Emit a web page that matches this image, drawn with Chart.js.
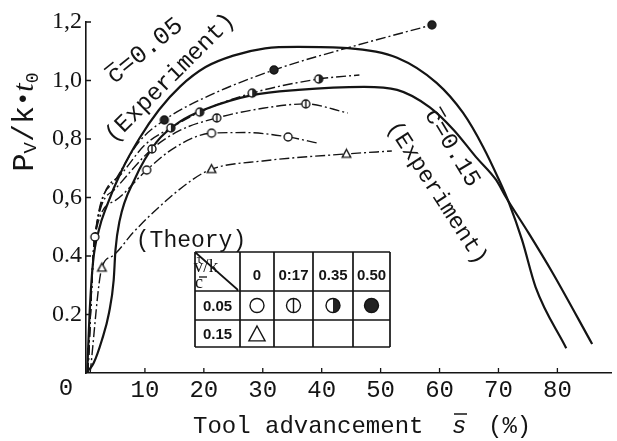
<!DOCTYPE html>
<html>
<head>
<meta charset="utf-8">
<script src="https://cdn.jsdelivr.net/npm/chart.js@4.4.1/dist/chart.umd.min.js"></script>
<style>
  html, body { margin: 0; padding: 0; background: #fff; }
  #wrap { width: 617px; height: 441px; }
</style>
</head>
<body>
<div id="wrap"><canvas id="chart" width="617" height="441"></canvas></div>
<script>
// ---- data ---------------------------------------------------------------

// experiment, c = 0.05 (upper solid curve)
const exp05X = [0.2, 0.6, 1.2, 2.2, 3.5, 6, 9, 12.4, 16, 20.3, 25, 30.4, 36, 44.4, 52.8, 59.5, 64, 67.4, 70.1, 71.8, 74, 76.3, 81.5];
const exp05Y = [0, 0.2, 0.38, 0.49, 0.57, 0.69, 0.8, 0.9, 0.98, 1.046, 1.085, 1.11, 1.115, 1.111, 1.078, 0.992, 0.889, 0.773, 0.66, 0.581, 0.455, 0.294, 0.085];

// experiment, c = 0.15 (lower solid curve)
const exp15X = [0.5, 1.3, 2.7, 3.9, 4.7, 5.0, 5.7, 8.2, 12, 16, 20, 28.2, 36, 47.2, 52.8, 58.3, 62.4, 66.2, 69.6, 71.3, 75.1, 79.2, 85.9];
const exp15Y = [0.01, 0.034, 0.113, 0.205, 0.318, 0.42, 0.52, 0.66, 0.79, 0.86, 0.9, 0.95, 0.968, 0.978, 0.968, 0.909, 0.831, 0.738, 0.66, 0.6, 0.479, 0.342, 0.099];

// theory, c = 0.05, tau/k = 0
const th0X = [0.3, 1.5, 5, 10.3, 15, 21.3, 27, 34.3, 39.3];
const th0Y = [0, 0.465, 0.59, 0.694, 0.77, 0.82, 0.822, 0.807, 0.786];
const th0Marks = [1, 3, 5, 7];

// theory, c = 0.05, tau/k = 0.17
const th17X = [0.3, 1.5, 5, 11.2, 16, 22.2, 30, 37.3, 44.4];
const th17Y = [0, 0.465, 0.63, 0.766, 0.83, 0.872, 0.905, 0.92, 0.889];
const th17Marks = [3, 5, 7];

// theory, c = 0.05, tau/k = 0.35
const th35X = [0.3, 1.5, 6, 10, 14.4, 19.3, 28.2, 39.5, 46.4];
const th35Y = [0, 0.465, 0.68, 0.78, 0.838, 0.892, 0.957, 1.005, 1.019];
const th35Marks = [4, 5, 6, 7];

// theory, c = 0.05, tau/k = 0.50
const th50X = [0.3, 1.5, 5, 9, 13.3, 20, 31.9, 45, 58.7];
const th50Y = [0, 0.465, 0.66, 0.79, 0.865, 0.94, 1.036, 1.115, 1.19];
const th50Marks = [4, 6, 8];

// theory, c = 0.15, tau/k = 0
const thTriX = [0.7, 2.7, 4.5, 8, 12, 18, 21.3, 30, 44.2, 51.9];
const thTriY = [0, 0.36, 0.40, 0.48, 0.56, 0.66, 0.697, 0.725, 0.749, 0.759];
const thTriMarks = [1, 6, 8];

const xTickValues = [10, 20, 30, 40, 50, 60, 70, 80];
const yTickLabels = ['', '0.2', '0.4', '0,6', '0,8', '1,0', '1,2'];
const tableCols = ['0', '0:17', '0.35', '0.50'];
const tableRows = ['0.05', '0.15'];

// ---- styling --------------------------------------------------------------

const INK = '#141414';
const MONO = "'Liberation Mono', 'DejaVu Sans Mono', monospace";
const SERIF = "'Liberation Serif', 'DejaVu Serif', serif";
const SANS = "'Liberation Sans', Arial, sans-serif";

function drawMarker(ctx, kind, x, y, r) {
    ctx.save();
    ctx.lineWidth = 1.4;
    ctx.strokeStyle = INK;
    if (kind === 'tri') {
        ctx.beginPath();
        ctx.moveTo(x, y - r);
        ctx.lineTo(x + r * 0.95, y + r * 0.75);
        ctx.lineTo(x - r * 0.95, y + r * 0.75);
        ctx.closePath();
        ctx.fillStyle = '#fff';
        ctx.fill();
        ctx.stroke();
        ctx.restore();
        return;
    }
    ctx.beginPath();
    ctx.arc(x, y, r, 0, Math.PI * 2);
    ctx.fillStyle = kind === 'full' ? '#222' : '#fff';
    ctx.fill();
    if (kind === 'half') {
        ctx.beginPath();
        ctx.arc(x, y, r, -Math.PI / 2, Math.PI / 2);
        ctx.closePath();
        ctx.fillStyle = '#222';
        ctx.fill();
    }
    ctx.beginPath();
    ctx.arc(x, y, r, 0, Math.PI * 2);
    ctx.stroke();
    if (kind === 'vbar') {
        ctx.beginPath();
        ctx.moveTo(x, y - r);
        ctx.lineTo(x, y + r);
        ctx.stroke();
    }
    ctx.restore();
}

function markerImage(kind, r) {
    const c = document.createElement('canvas');
    c.width = c.height = Math.ceil(2 * r + 4);
    drawMarker(c.getContext('2d'), kind, c.width / 2, c.height / 2, r);
    return c;
}

function series(xs, ys, extra) {
    return Object.assign({
        data: xs.map((x, i) => ({ x: x, y: ys[i] })),
        showLine: true,
        borderColor: INK,
        backgroundColor: INK,
        clip: false,
        cubicInterpolationMode: 'monotone',
        pointRadius: 0,
        pointHoverRadius: 0
    }, extra);
}

function theory(xs, ys, marks, kind) {
    return series(xs, ys, {
        borderWidth: 1.4,
        borderDash: [10, 3, 2, 3],
        pointStyle: markerImage(kind, kind === 'tri' ? 4.5 : 4),
        pointRadius: c => marks.includes(c.dataIndex) ? 4 : 0
    });
}

// ---- text / table decorations --------------------------------------------

function rotText(ctx, text, cx, cy, deg, font) {
    ctx.save();
    ctx.translate(cx, cy);
    ctx.rotate(deg * Math.PI / 180);
    ctx.font = font;
    ctx.textAlign = 'center';
    ctx.textBaseline = 'middle';
    ctx.fillText(text, 0, 0);
    ctx.restore();
}

// first char gets an overline (c bar)
function rotTextBar(ctx, text, cx, cy, deg, size) {
    ctx.save();
    ctx.translate(cx, cy);
    ctx.rotate(deg * Math.PI / 180);
    ctx.font = size + 'px ' + MONO;
    ctx.textAlign = 'left';
    ctx.textBaseline = 'middle';
    const w = ctx.measureText(text).width;
    const cw = ctx.measureText(text[0]).width;
    ctx.fillText(text, -w / 2, 0);
    ctx.lineWidth = 1.5;
    ctx.beginPath();
    ctx.moveTo(-w / 2 + cw * 0.1, -size * 0.45);
    ctx.lineTo(-w / 2 + cw * 0.9, -size * 0.45);
    ctx.stroke();
    ctx.restore();
}

function drawYTitle(ctx) {
    const parts = [
        { t: 'P', font: '30px ' + MONO, dy: 0 },
        { t: 'V', font: '19px ' + MONO, dy: 3 },
        { t: '/k', font: '30px ' + MONO, dy: 0 },
        { t: '\u2022', font: '24px ' + MONO, dy: -2 },
        { t: 't', font: 'italic 30px ' + SERIF, dy: 0 },
        { t: '0', font: '18px ' + MONO, dy: 5 }
    ];
    ctx.save();
    ctx.translate(23, 122);
    ctx.rotate(-Math.PI / 2);
    ctx.textBaseline = 'alphabetic';
    ctx.textAlign = 'left';
    let total = 0;
    parts.forEach(p => { ctx.font = p.font; p.w = ctx.measureText(p.t).width; total += p.w; });
    let x = -total / 2;
    parts.forEach(p => {
        ctx.font = p.font;
        ctx.fillText(p.t, x, 10 + p.dy);
        x += p.w;
    });
    ctx.restore();
}

function drawXTitle(ctx) {
    ctx.save();
    ctx.textBaseline = 'alphabetic';
    ctx.textAlign = 'left';
    ctx.font = '24px ' + MONO;
    ctx.fillText('Tool advancement', 193, 433);
    ctx.font = 'italic 24px ' + MONO;
    ctx.fillText('s', 452, 433);
    ctx.lineWidth = 1.5;
    ctx.beginPath();
    ctx.moveTo(454, 414);
    ctx.lineTo(467, 414);
    ctx.stroke();
    ctx.font = '24px ' + MONO;
    ctx.fillText('(%)', 488, 433);
    ctx.restore();
}

function drawTable(ctx) {
    const xs = [195, 240, 274, 313, 353, 390];
    const ys = [252, 291, 320, 347];
    ctx.save();
    ctx.fillStyle = INK;
    ctx.font = '23px ' + MONO;
    ctx.textBaseline = 'alphabetic';
    ctx.fillText('(Theory)', 191, 247);

    ctx.lineWidth = 1.7;
    ctx.beginPath();
    xs.forEach(x => { ctx.moveTo(x, ys[0]); ctx.lineTo(x, ys[3]); });
    ys.forEach(y => { ctx.moveTo(xs[0], y); ctx.lineTo(xs[5], y); });
    ctx.moveTo(196, 253);
    ctx.lineTo(238, 290);
    ctx.stroke();

    // header cell
    ctx.font = '13px ' + SERIF;
    ctx.fillText('\u03c4', 199, 263);
    ctx.font = '19px ' + SERIF;
    ctx.fillText('v/k', 206, 272);
    ctx.font = '18px ' + SERIF;
    ctx.fillText('c', 199, 288);
    ctx.lineWidth = 1.3;
    ctx.beginPath();
    ctx.moveTo(199, 277);
    ctx.lineTo(207, 277);
    ctx.stroke();

    ctx.textAlign = 'center';
    ctx.textBaseline = 'middle';
    ctx.font = 'bold 15px ' + SANS;
    tableCols.forEach((t, i) => ctx.fillText(t, (xs[i + 1] + xs[i + 2]) / 2, 276));
    tableRows.forEach((t, i) => ctx.fillText(t, (xs[0] + xs[1]) / 2, (ys[i + 1] + ys[i + 2]) / 2 + 1));

    const rowY = (ys[1] + ys[2]) / 2;
    ['open', 'vbar', 'half', 'full'].forEach((k, i) => drawMarker(ctx, k, (xs[i + 1] + xs[i + 2]) / 2, rowY, 7));
    drawMarker(ctx, 'tri', (xs[1] + xs[2]) / 2, (ys[2] + ys[3]) / 2 + 1, 8.5);
    ctx.restore();
}

const decor = {
    id: 'decor',
    afterDraw(chart) {
        const ctx = chart.ctx;
        const sx = chart.scales.x, sy = chart.scales.y;
        ctx.save();
        ctx.strokeStyle = INK;
        ctx.fillStyle = INK;

        // inward tick marks
        ctx.lineWidth = 1.3;
        ctx.beginPath();
        xTickValues.forEach(v => {
            const px = sx.getPixelForValue(v);
            ctx.moveTo(px, sy.bottom);
            ctx.lineTo(px, sy.bottom - 5);
        });
        yTickLabels.forEach((t, i) => {
            if (!i) return;
            const py = sy.getPixelForValue(i * 0.2);
            ctx.moveTo(sx.left, py);
            ctx.lineTo(sx.left + 5, py);
        });
        ctx.stroke();

        // shared origin label
        ctx.font = '24px ' + MONO;
        ctx.textAlign = 'center';
        ctx.textBaseline = 'middle';
        ctx.fillText('0', 66, 389);

        drawYTitle(ctx);
        drawXTitle(ctx);

        ctx.fillStyle = INK;
        ctx.strokeStyle = INK;
        rotTextBar(ctx, 'c=0.05', 145, 51, -39, 25);
        rotText(ctx, '(Experiment)', 170, 78, -45, '24px ' + MONO);
        rotTextBar(ctx, 'c=0.15', 452, 148, 59, 24);
        rotText(ctx, '(Experiment)', 437, 193, 57, '23px ' + MONO);

        drawTable(ctx);
        ctx.restore();
    }
};

// ---- chart ------------------------------------------------------------------

const datasets = [
    theory(th0X, th0Y, th0Marks, 'open'),
    theory(th17X, th17Y, th17Marks, 'vbar'),
    theory(th35X, th35Y, th35Marks, 'half'),
    theory(th50X, th50Y, th50Marks, 'full'),
    theory(thTriX, thTriY, thTriMarks, 'tri'),
    series(exp05X, exp05Y, { borderWidth: 2.2 }),
    series(exp15X, exp15Y, { borderWidth: 2.2 })
];

new Chart(document.getElementById('chart').getContext('2d'), {
    type: 'scatter',
    data: { datasets: datasets },
    options: {
        responsive: false,
        animation: false,
        events: [],
        layout: { padding: { top: 22, right: 0, bottom: 0, left: 0 } },
        plugins: {
            legend: { display: false },
            tooltip: { enabled: false }
        },
        scales: {
            x: {
                type: 'linear',
                min: 0,
                max: 89.2,
                afterFit: s => { s.height = 68; },
                grid: { display: false, drawTicks: false },
                border: { display: true, color: INK, width: 1.6 },
                ticks: {
                    stepSize: 10,
                    includeBounds: false,
                    autoSkip: false,
                    maxRotation: 0,
                    padding: 3,
                    color: INK,
                    font: { family: MONO, size: 24 },
                    callback: v => (v > 0 && v % 10 === 0) ? String(v) : ''
                }
            },
            y: {
                min: 0,
                max: 1.2,
                afterFit: s => { s.width = 86; },
                grid: { display: false, drawTicks: false },
                border: { display: true, color: INK, width: 1.6 },
                ticks: {
                    stepSize: 0.2,
                    autoSkip: false,
                    padding: 4,
                    color: INK,
                    font: { family: SERIF, size: 24 },
                    callback: v => yTickLabels[Math.round(v * 5)] || ''
                }
            }
        }
    },
    plugins: [decor]
});
</script>
</body>
</html>
